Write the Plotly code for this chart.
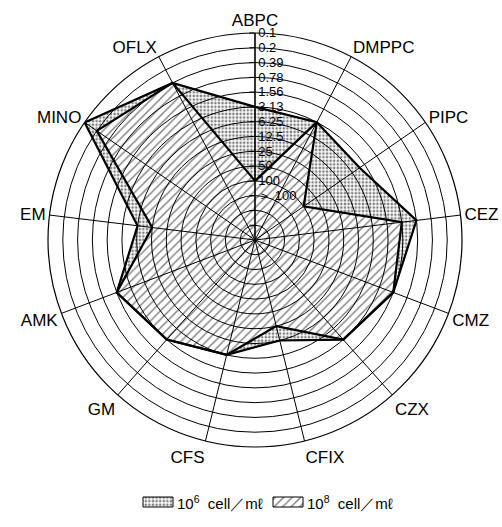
import numpy as np
import plotly.graph_objects as go

# Drugs around the chart, clockwise from the top
categories = ["ABPC", "DMPPC", "PIPC", "CEZ", "CMZ", "CZX", "CFIX",
              "CFS", "GM", "AMK", "EM", "MINO", "OFLX"]

# MIC expressed as dilution step (14 = 0.1 µg/ml on the rim, 3 = >100)
level_1e6 = [9, 9, 8.6, 11, 10, 9, 7, 8, 9, 10, 8, 14, 12]
level_1e8 = [4, 9, 4, 10, 10, 9, 6, 8, 9, 10, 7, 13, 12]

# Concentric rings and their MIC labels
ring_levels = list(range(1, 15))
ring_labels = [" ", " ", "＞ 100", "100", "50", "25", "12.5", "6.25",
               "3.13", "1.56", "0.78", "0.39", "0.2", "0.1"]

series_names = ["10<sup>6</sup>  cell／mℓ", "10<sup>8</sup>  cell／mℓ"]
patterns = [
    dict(shape=".", size=3.6, solidity=0.42, fgcolor="black", bgcolor="white"),
    dict(shape="/", size=6, solidity=0.24, fgcolor="black", bgcolor="white"),
]
series_levels = [level_1e6, level_1e8]

W, H = 502, 527
R_MAX = 14
# chart square in page pixels
CX, CY, RAD = 255, 240, 207
dom_x = [(CX - RAD) / W, (CX + RAD) / W]
dom_y = [(H - CY - RAD) / H, (H - CY + RAD) / H]

n = len(categories)
theta_deg = 90 - np.arange(n) * 360 / n

fig = go.Figure()

# Patterned areas on a cartesian layer laid exactly under the polar grid
for vals, pat in zip(series_levels, patterns):
    r = np.append(vals, vals[0]).astype(float)
    t = np.deg2rad(np.append(theta_deg, theta_deg[0]))
    fig.add_trace(go.Scatter(
        x=r * np.cos(t), y=r * np.sin(t),
        mode="lines", fill="toself",
        line=dict(color="black", width=1),
        fillpattern=pat, showlegend=False, hoverinfo="skip",
    ))

# Bold polygon outlines in the polar subplot
for vals in series_levels:
    fig.add_trace(go.Scatterpolar(
        r=vals + [vals[0]], theta=categories + [categories[0]],
        mode="lines", line=dict(color="black", width=2.2),
        showlegend=False, hoverinfo="skip",
    ))

# Key below the chart: patterned boxes on a pixel-scaled strip
key_x0 = [143, 273]
key_w, key_h, key_yc = 30, 10, 25
for x0, pat, name in zip(key_x0, patterns, series_names):
    fig.add_trace(go.Scatter(
        x=[x0, x0 + key_w, x0 + key_w, x0, x0],
        y=[key_yc - key_h / 2] * 2 + [key_yc + key_h / 2] * 2 + [key_yc - key_h / 2],
        mode="lines", fill="toself", line=dict(color="black", width=1),
        fillpattern=pat, xaxis="x2", yaxis="y2",
        showlegend=False, hoverinfo="skip",
    ))
    fig.add_annotation(
        x=x0 + key_w + 2, y=key_yc, xref="x2", yref="y2",
        text=name, showarrow=False, xanchor="left", yanchor="middle",
        font=dict(size=15, color="black"),
    )

font_family = "Liberation Sans, Arial, sans-serif"

fig.update_layout(
    width=W, height=H, autosize=False,
    margin=dict(l=0, r=0, t=0, b=0),
    paper_bgcolor="white", plot_bgcolor="rgba(0,0,0,0)",
    font=dict(family=font_family, color="black"),
    xaxis=dict(range=[-R_MAX, R_MAX], visible=False, domain=dom_x, fixedrange=True),
    yaxis=dict(range=[-R_MAX, R_MAX], visible=False, domain=dom_y, fixedrange=True),
    xaxis2=dict(range=[0, W], visible=False, domain=[0, 1], fixedrange=True, anchor="y2"),
    yaxis2=dict(range=[0, 60], visible=False, domain=[0, 60 / H], fixedrange=True, anchor="x2"),
    polar=dict(
        domain=dict(x=dom_x, y=dom_y),
        bgcolor="rgba(0,0,0,0)",
        angularaxis=dict(
            type="category", categoryorder="array", categoryarray=categories,
            direction="clockwise", rotation=90,
            showline=True, linecolor="black", linewidth=1.2,
            showgrid=True, gridcolor="black", gridwidth=1.1,
            ticks="", tickfont=dict(size=17, color="black", family=font_family),
        ),
        radialaxis=dict(
            range=[0, R_MAX], angle=90, side="clockwise", tickangle=90,
            tickmode="array", tickvals=ring_levels, ticktext=ring_labels,
            showgrid=True, gridcolor="black", gridwidth=1,
            showline=True, linecolor="black", linewidth=1.2,
            ticks="inside", ticklen=5, tickcolor="black",
            tickfont=dict(size=13, color="black", family=font_family),
        ),
    ),
    showlegend=False,
)

fig.write_html("out.html")
